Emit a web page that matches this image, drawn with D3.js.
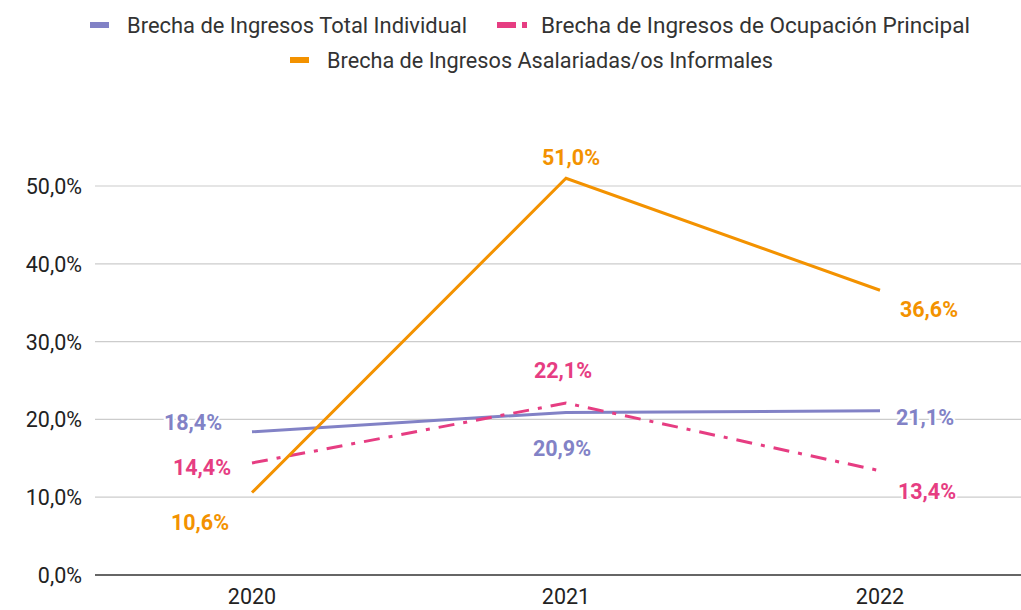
<!DOCTYPE html>
<html><head><meta charset="utf-8">
<script src="https://cdn.jsdelivr.net/npm/d3@7"></script>
<style>body{margin:0;background:#fff}svg{display:block}text{font-family:Roboto,"Noto Sans",sans-serif}</style>
</head><body><svg id="c" width="1021" height="610"></svg>
<script>
const years = ["2020","2021","2022"];
const totalIndividual = [18.4, 20.9, 21.1];
const ocupacionPrincipal = [14.4, 22.1, 13.4];
const asalariadasInformales = [10.6, 51.0, 36.6];
const yTicks = [0,10,20,30,40,50];
const seriesNames = ["Brecha de Ingresos Total Individual","Brecha de Ingresos de Ocupación Principal","Brecha de Ingresos Asalariadas/os Informales"];
const colors = ["#8282c6","#e63d82","#f39200"];

const svg = d3.select("#c");
const W = 1021, left = 95, FS = 21.5;
const x = d3.scalePoint().domain(years).range([left, 1037]).padding(0.5);
const y = d3.scaleLinear().domain([0,50]).range([575,186]);
const fmt = v => d3.format(".1f")(v).replace(".", ",") + "%";

// grid
svg.append("g").selectAll("line").data(yTicks.filter(d=>d>0)).join("line")
  .attr("x1", left).attr("x2", W).attr("y1", d=>y(d)).attr("y2", d=>y(d))
  .attr("stroke","#cccccc").attr("stroke-width",1.2);
svg.append("line").attr("x1",left).attr("x2",W).attr("y1",y(0)).attr("y2",y(0)).attr("stroke","#333").attr("stroke-width",1.5);

// y labels
svg.append("g").selectAll("text").data(yTicks).join("text")
  .attr("x", 82).attr("y", d=>y(d)+8).attr("text-anchor","end")
  .attr("font-size",FS).attr("fill","#222").text(d=>fmt(d));
// x labels
svg.append("g").selectAll("text").data(years).join("text")
  .attr("x", d=>x(d)).attr("y", 604).attr("text-anchor","middle")
  .attr("font-size",FS).attr("fill","#222").text(d=>d);

const series = [
  {vals: totalIndividual, color: colors[0], dash: null},
  {vals: ocupacionPrincipal, color: colors[1], dash: "16,9,4,9"},
  {vals: asalariadasInformales, color: colors[2], dash: null}
];
const line = d3.line().x((d,i)=>x(years[i])).y(d=>y(d));
series.forEach(s=>{
  svg.append("path").attr("d", line(s.vals)).attr("fill","none")
    .attr("stroke", s.color).attr("stroke-width",3)
    .attr("stroke-dasharray", s.dash);
});

// data labels: offsets of label centre from the point
const labelPos = [
  [[-59,-10],[-4,36],[45,6]],
  [[-50,4],[-3,-33],[47,20]],
  [[-52,29],[5,-21],[49,19]]
];
series.forEach((s,si)=>{
  s.vals.forEach((v,i)=>{
    svg.append("text").attr("x", x(years[i])+labelPos[si][i][0]).attr("y", y(v)+labelPos[si][i][1]+8)
      .attr("text-anchor","middle").attr("font-size",FS).attr("font-weight","bold")
      .attr("fill", s.color).attr("stroke","#fff").attr("stroke-width",4).attr("paint-order","stroke")
      .text(fmt(v));
  });
});

// legend
const lg = svg.append("g");
function legendItem(sx, cy, color, name, dashed, len){
  lg.append("rect").attr("x",sx).attr("y",cy-3).attr("width",19).attr("height",6).attr("fill",color);
  if(dashed) lg.append("rect").attr("x",sx+25).attr("y",cy-3).attr("width",5).attr("height",6).attr("fill",color);
  lg.append("text").attr("x", sx+(dashed?44:37)).attr("y", cy+8).attr("font-size",FS).attr("fill","#333")
    .attr("textLength", len).attr("lengthAdjust","spacingAndGlyphs").text(name);
}
legendItem(90, 25, colors[0], seriesNames[0], false, 340);
legendItem(497, 25, colors[1], seriesNames[1], true, 429);
legendItem(290, 60, colors[2], seriesNames[2], false, 446);
</script></body></html>
